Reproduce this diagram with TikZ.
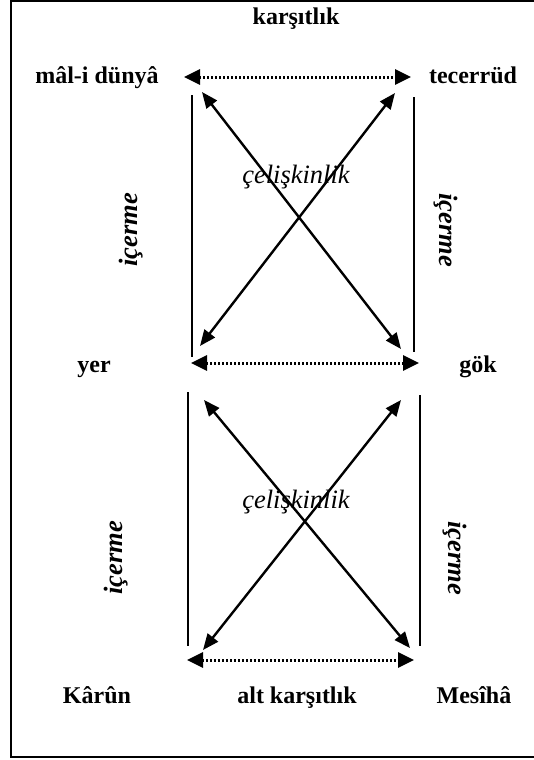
\documentclass[tikz,border=0pt]{standalone}
\usepackage{fontspec}
\setmainfont{Liberation Serif}
\usetikzlibrary{arrows.meta}
\tikzset{
  lbl/.style={font=\fontsize{24}{27}\selectfont\bfseries, inner sep=0pt, anchor=base},
  rel/.style={font=\fontsize{26.5}{29}\selectfont\itshape, inner sep=0pt, anchor=base},
  relb/.style={font=\fontsize{26.5}{29}\selectfont\bfseries\itshape, inner sep=0pt},
  diag/.style={line width=2.4pt, {Triangle[length=16pt,width=13pt]}-{Triangle[length=16pt,width=13pt]}},
  contr/.style={line width=3pt, dash pattern=on 2.2pt off 1.8pt, {Triangle[length=16pt,width=15pt]}-{Triangle[length=16pt,width=15pt]}},
  impl/.style={line width=1.8pt},
}
\begin{document}
\begin{tikzpicture}[x=1pt,y=-1pt]
\useasboundingbox (0,0) rectangle (534,760);
\draw[line width=2.2pt] (11,1) rectangle (545,757);

% labels
\node[lbl] (kars) at (296,25) {karşıtlık};
\node[lbl] (mal) at (97,83) {mâl-i dünyâ};
\node[lbl] (tec) at (473,83) {tecerrüd};
\node[lbl] (yer) at (94,372) {yer};
\node[lbl] (gok) at (478,372) {gök};
\node[lbl] (kar) at (97,703) {Kârûn};
\node[lbl] (alt) at (297,703) {alt karşıtlık};
\node[lbl] (mes) at (474,703) {Mesîhâ};

\node[rel] (cel1) at (296,183) {çelişkinlik};
\node[rel] (cel2) at (296,508) {çelişkinlik};

\node[relb, rotate=90] (ic1) at (131,230) {içerme};
\node[relb, rotate=-90] (ic2) at (446,230) {içerme};
\node[relb, rotate=90] (ic3) at (116,558) {içerme};
\node[relb, rotate=-90] (ic4) at (455,558) {içerme};

% coordinates
\coordinate (t1) at (184,77);
\coordinate (t2) at (411,77);
\coordinate (m1) at (191,363);
\coordinate (m2) at (419,363);
\coordinate (b1) at (187,660);
\coordinate (b2) at (414,660);

\coordinate (lv1a) at (192,95);
\coordinate (lv1b) at (192,357);
\coordinate (rv1a) at (414,97);
\coordinate (rv1b) at (414,352);
\coordinate (lv2a) at (188,392);
\coordinate (lv2b) at (188,646);
\coordinate (rv2a) at (420,395);
\coordinate (rv2b) at (420,646);

\coordinate (a1) at (202,92);
\coordinate (a2) at (401,349);
\coordinate (c1) at (200,346);
\coordinate (c2) at (395,93);

\coordinate (e1) at (204,400);
\coordinate (e2) at (410,648);
\coordinate (f1) at (401,400);
\coordinate (f2) at (203,650);

% contrariety arrows
\draw[contr] (t1) -- (t2);
\draw[contr] (m1) -- (m2);
\draw[contr] (b1) -- (b2);

% implication lines
\draw[impl] (lv1a) -- (lv1b);
\draw[impl] (rv1a) -- (rv1b);
\draw[impl] (lv2a) -- (lv2b);
\draw[impl] (rv2a) -- (rv2b);

% contradiction arrows
\draw[diag] (a1) -- (a2);
\draw[diag] (c1) -- (c2);
\draw[diag] (e1) -- (e2);
\draw[diag] (f1) -- (f2);
\end{tikzpicture}
\end{document}
